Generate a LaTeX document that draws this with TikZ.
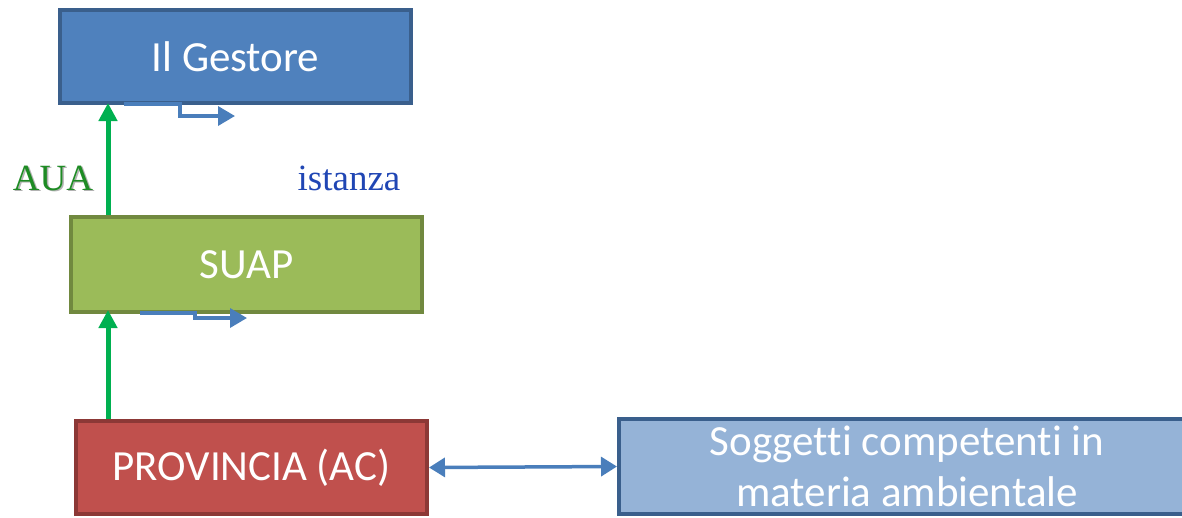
\documentclass[tikz,border=0pt]{standalone}
\usepackage{fontspec}
\setmainfont{Carlito}[Ligatures=NoCommon]
\newfontfamily\labelfont{Liberation Serif}
\usetikzlibrary{arrows.meta}

\definecolor{gestFill}{HTML}{4F81BD}
\definecolor{gestLine}{HTML}{3A5F8C}
\definecolor{suapFill}{HTML}{9BBB59}
\definecolor{suapLine}{HTML}{71893F}
\definecolor{provFill}{HTML}{C0504D}
\definecolor{provLine}{HTML}{8C3836}
\definecolor{sogFill}{HTML}{95B3D7}
\definecolor{flowGreen}{HTML}{00B050}
\definecolor{flowBlue}{HTML}{4A7EBB}
\definecolor{auaGreen}{HTML}{1E8B24}
\definecolor{istBlue}{HTML}{2046B4}

\tikzset{
  box/.style={draw, line width=4pt, inner sep=0pt, text=white, align=center,
    font=\fontsize{43}{51}\selectfont},
  greenflow/.style={draw=flowGreen, line width=5pt,
    -{Triangle[width=18pt,length=18pt]}},
  blueflow/.style={draw=flowBlue, line width=3.5pt,
    -{Triangle[width=19pt,length=17pt]}},
  bothflow/.style={draw=flowBlue, line width=3.5pt,
    {Triangle[width=19pt,length=16pt]}-{Triangle[width=19pt,length=16pt]}},
  tag/.style={font=\labelfont\fontsize{37}{40}\selectfont, inner sep=0pt}
}

\begin{document}
\begin{tikzpicture}[x=1pt,y=-1pt]
  \useasboundingbox (0,0) rectangle (1182,517);
  \clip (0,0) rectangle (1182,517);

  % boxes
  \node[box, fill=gestFill, draw=gestLine, minimum width=351pt, minimum height=93pt]
    (gestore) at (235.5,56.5) {Il Gestore};
  \node[box, fill=suapFill, draw=suapLine, minimum width=351pt, minimum height=95pt]
    (suap) at (246.5,264.5) {SUAP};
  \node[box, fill=provFill, draw=provLine, minimum width=351pt, minimum height=93pt]
    (prov) at (251.5,467.5) {PROVINCIA (AC)};
  \node[box, fill=sogFill, draw=gestLine, minimum width=576pt, minimum height=95pt]
    (sogg) at (907,466.5) {Soggetti competenti in\\materia ambientale};

  % AUA flow upwards
  \draw[greenflow] ([xshift=39pt]suap.north west)
    -- ([xshift=39pt,yshift=2pt]suap.north west |- gestore.south);
  \draw[greenflow] ([xshift=34pt]prov.north west)
    -- ([xshift=34pt,yshift=4pt]prov.north west |- suap.south);

  % istanza flow (elbow arrows)
  \coordinate (g0) at ([xshift=66pt,yshift=1pt]gestore.south west);
  \draw[blueflow] (g0) -- ++(56,0) -- ++(0,12) -- ++(55,0);
  \coordinate (s0) at ([xshift=71pt,yshift=1pt]suap.south west);
  \draw[blueflow] (s0) -- ++(55,0) -- ++(0,5) -- ++(52,0);

  % exchange with the competent bodies
  \draw[bothflow] (prov.east) -- (sogg.west);

  % labels
  \node[tag, text=gray!60] (auashadow) at (54.5,179.5) {AUA};
  \node[tag, text=auaGreen] (aua) at (53,178) {AUA};
  \node[tag, text=istBlue] (istanza) at (349,178) {istanza};
\end{tikzpicture}
\end{document}
